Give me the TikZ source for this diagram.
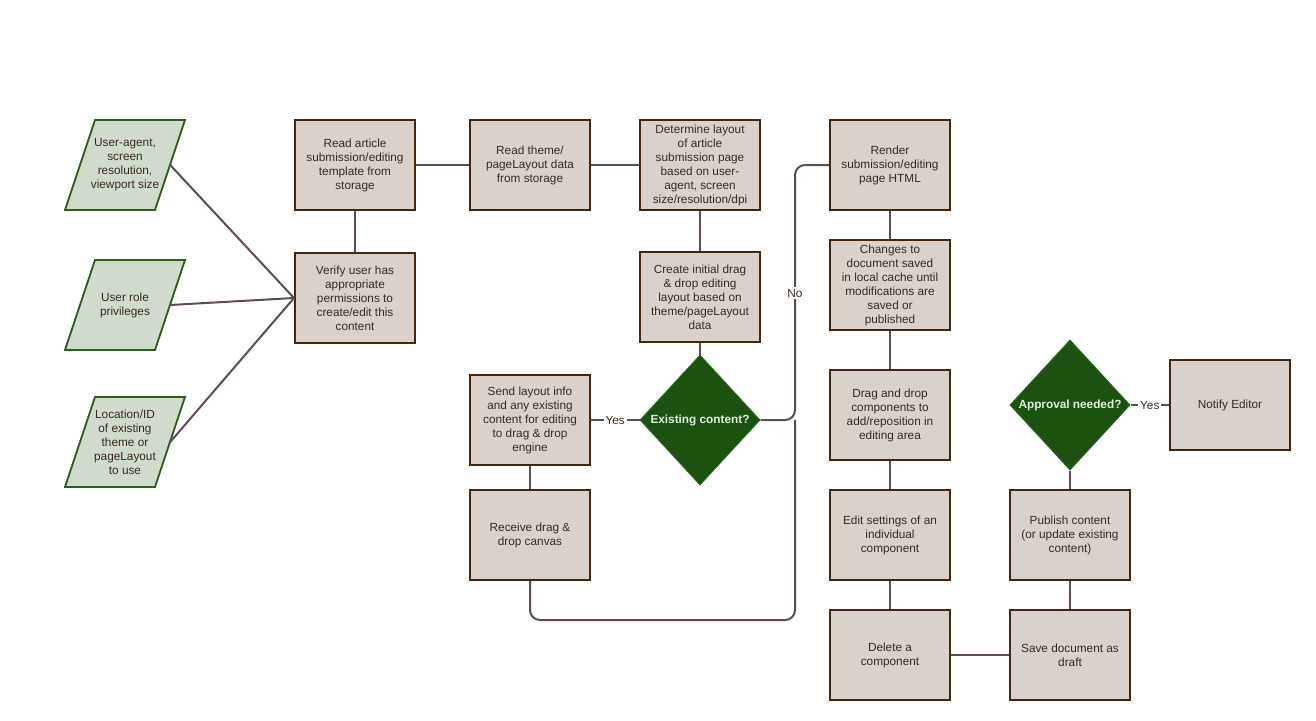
\documentclass[tikz,border=0pt]{standalone}
\usepackage{fontspec}
\setmainfont{Liberation Sans}
\usetikzlibrary{shapes.geometric}
\definecolor{boxfill}{HTML}{D9D2CC}
\definecolor{boxline}{HTML}{452610}
\definecolor{paralfill}{HTML}{D0DBCE}
\definecolor{paraline}{HTML}{2F5B1F}
\definecolor{diafill}{HTML}{1B5210}
\definecolor{dialine}{HTML}{2A6020}
\definecolor{diatext}{HTML}{E4F0DC}
\definecolor{conn}{HTML}{5E4B56}
\definecolor{txt}{HTML}{3B2A1E}
\begin{document}
\begin{tikzpicture}[x=1pt,y=-1pt,
  every node/.style={font=\fontsize{11.8}{14}\selectfont, text=txt},
  procbox/.style={draw=boxline, fill=boxfill, line width=2pt, minimum width=120pt, minimum height=90pt, inner sep=0pt, align=center},
  paratext/.style={minimum width=90pt, minimum height=90pt, inner sep=0pt, align=center},
  parashape/.style={draw=paraline, fill=paralfill, line width=1.8pt, line join=miter},
  decision/.style={diamond, draw=dialine, fill=diafill, line width=1pt, aspect=0.92, minimum width=120pt, minimum height=130pt, inner sep=0pt, text=diatext, font=\fontsize{11.8}{14}\selectfont\bfseries},
  link/.style={draw=conn, line width=2pt},
  lab/.style={fill=white, inner sep=2pt, text=txt}
]
\useasboundingbox (0,0) rectangle (1316,720);

% parallelogram inputs
\foreach \px/\py in {125/165, 125/305, 125/442}{
  \draw[parashape, shift={(\px,\py)}] (-60,45) -- (30,45) -- (60,-45) -- (-30,-45) -- cycle;
}
\node[paratext] (p1) at (125,165) {User-agent,\\screen\\resolution,\\viewport size};
\node[paratext] (p2) at (125,305) {User role\\privileges};
\node[paratext] (p3) at (125,442) {Location/ID\\of existing\\theme or\\pageLayout\\to use};

% process boxes
\node[procbox] (readart) at (355,165) {Read article\\submission/editing\\template from\\storage};
\node[procbox] (verify) at (355,298) {Verify user has\\appropriate\\permissions to\\create/edit this\\content};
\node[procbox] (readtheme) at (530,165) {Read theme/\\pageLayout data\\from storage};
\node[procbox] (determine) at (700,165) {Determine layout\\of article\\submission page\\based on user-\\agent, screen\\size/resolution/dpi};
\node[procbox] (create) at (700,297) {Create initial drag\\\& drop editing\\layout based on\\theme/pageLayout\\data};
\node[decision] (exist) at (700,420) {Existing content?};
\node[procbox] (send) at (530,420) {Send layout info\\and any existing\\content for editing\\to drag \& drop\\engine};
\node[procbox] (receive) at (530,535) {Receive drag \&\\drop canvas};
\node[procbox] (render) at (890,165) {Render\\submission/editing\\page HTML};
\node[procbox] (changes) at (890,285) {Changes to\\document saved\\in local cache until\\modifications are\\saved or\\published};
\node[procbox] (dragdrop) at (890,415) {Drag and drop\\components to\\add/reposition in\\editing area};
\node[procbox] (edit) at (890,535) {Edit settings of an\\individual\\component};
\node[procbox] (delete) at (890,655) {Delete a\\component};
\node[procbox] (save) at (1070,655) {Save document as\\draft};
\node[procbox] (publish) at (1070,535) {Publish content\\(or update existing\\content)};
\node[decision] (approval) at (1070,405) {Approval needed?};
\node[procbox] (notify) at (1230,405) {Notify Editor};

\coordinate (c1) at (530,620);
\coordinate (c2) at (795,620);
\coordinate (c3) at (795,420);
\coordinate (c4) at (795,165);

% connectors
\begin{scope}[on background layer/.style={}]
\end{scope}
\path[link] (p1.east) -- (verify.west);
\path[link] (p2.east) -- (verify.west);
\path[link] (p3.east) -- (verify.west);
\path[link] (readart) -- (verify);
\path[link] (readart) -- (readtheme);
\path[link] (readtheme) -- (determine);
\path[link] (determine) -- (create);
\path[link] (create) -- (exist);
\path[link] (exist) -- node[lab] {Yes} (send);
\path[link] (send) -- (receive);
\path[link, rounded corners=10pt] (receive.south) -- (c1) -- (c2) -- (c3);
\path[link, rounded corners=10pt] (exist.east) -- (c3) -- (c4) -- (render.west);
\node[lab] (no) at (795,293) {No};
\path[link] (render) -- (changes);
\path[link] (changes) -- (dragdrop);
\path[link] (dragdrop) -- (edit);
\path[link] (edit) -- (delete);
\path[link] (delete) -- (save);
\path[link] (save) -- (publish);
\path[link] (publish) -- (approval);
\path[link] (approval) -- node[lab] {Yes} (notify);
\end{tikzpicture}
\end{document}
